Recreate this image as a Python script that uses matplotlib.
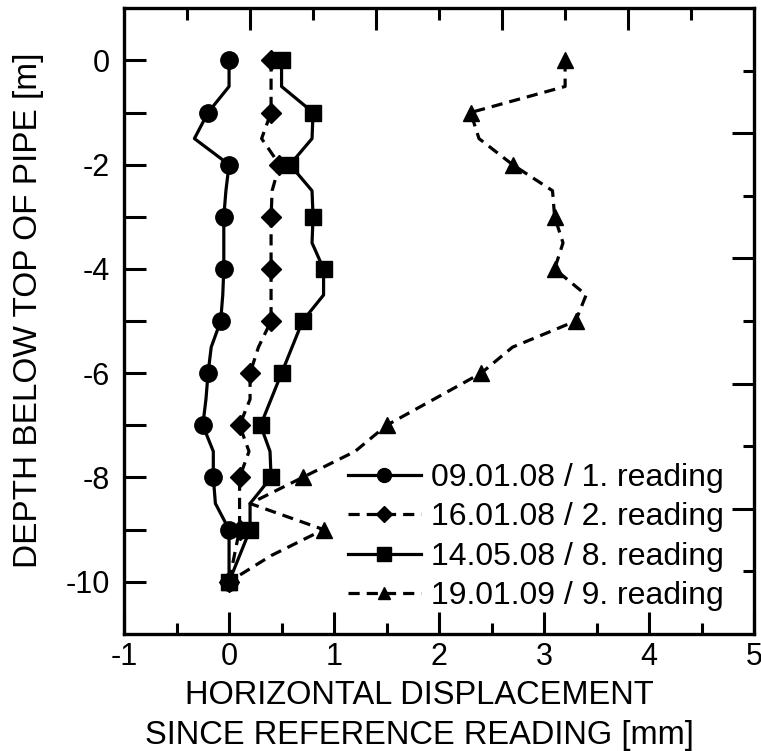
import matplotlib
matplotlib.use("Agg")
import matplotlib.pyplot as plt
import matplotlib.transforms as mtransforms
from matplotlib.lines import Line2D

# depth below top of pipe [m], every half metre (markers only at whole metres)
depth = [0, -0.5, -1, -1.5, -2, -2.5, -3, -3.5, -4, -4.5, -5,
         -5.5, -6, -6.5, -7, -7.5, -8, -8.5, -9, -9.5, -10]

# horizontal displacement [mm]
read1 = [0.0, 0.0, -0.2, -0.33, 0.0, -0.03, -0.05, -0.05, -0.05, -0.06, -0.08,
         -0.17, -0.2, -0.22, -0.25, -0.15, -0.15, -0.13, 0.0, 0.0, 0.0]
read2 = [0.4, 0.4, 0.4, 0.31, 0.48, 0.41, 0.4, 0.4, 0.4, 0.4, 0.4,
         0.28, 0.2, 0.2, 0.1, 0.19, 0.1, 0.1, 0.1, 0.05, 0.0]
read8 = [0.5, 0.5, 0.8, 0.79, 0.58, 0.79, 0.8, 0.79, 0.9, 0.9, 0.7,
         0.6, 0.5, 0.4, 0.3, 0.39, 0.4, 0.2, 0.2, 0.1, 0.0]
read9 = [3.2, 3.2, 2.3, 2.38, 2.7, 3.08, 3.1, 3.18, 3.1, 3.4, 3.3,
         2.7, 2.4, 1.95, 1.5, 1.2, 0.7, 0.2, 0.9, 0.4, 0.0]

labels = ["09.01.08 / 1. reading", "16.01.08 / 2. reading",
          "14.05.08 / 8. reading", "19.01.09 / 9. reading"]

# tick positions of the top and right frame (different spacing from the scales)
top_major = [0.2, 1.4, 2.6, 3.8]
top_minor = [-0.4, 0.8, 2.0, 3.2, 4.4]
right_major = [-1.4, -3.8, -6.2, -8.6]
right_minor = [-0.2, -2.6, -5.0, -7.4, -9.8]

plt.rcParams['font.family'] = ['Liberation Sans', 'DejaVu Sans']
plt.rcParams['axes.unicode_minus'] = False

fig = plt.figure(figsize=(7.61, 7.51), dpi=100)
rect = [0.163, 0.156, 0.828, 0.833]
ax = fig.add_axes(rect)

lw = 2.3
dash = (0, (3.5, 2.2))
ax.plot(read1, depth, color='k', lw=lw, marker='o', ms=12.5, markevery=2, label=labels[0])
ax.plot(read2, depth, color='k', lw=lw, ls=dash, marker='D', ms=10, markevery=2, label=labels[1])
ax.plot(read8, depth, color='k', lw=lw, marker='s', ms=12, markevery=2, label=labels[2])
ax.plot(read9, depth, color='k', lw=lw, ls=dash, marker='^', ms=11, markevery=2, label=labels[3])

ax.set_xlim(-1, 5)
ax.set_ylim(-11, 1)

ax.set_xticks(range(-1, 6))
ax.set_xticks([-0.5 + i for i in range(6)], minor=True)
ax.set_yticks(range(-10, 1, 2))
ax.set_yticks(range(-9, 0, 2), minor=True)

ax.tick_params(which='both', direction='in', width=2.2, labelsize=22,
               top=False, right=False)
ax.tick_params(axis='x', which='major', length=16, pad=6)
ax.tick_params(axis='x', which='minor', length=8)
ax.tick_params(axis='y', which='both', length=16, pad=10)

for s in ax.spines.values():
    s.set_linewidth(2.4)

# right frame ticks: overlay axes
ov = fig.add_axes(rect, frameon=False, label='right_ticks')
ov.set_xlim(-1, 5)
ov.set_ylim(-11, 1)
ov.set_xticks([])
ov.yaxis.tick_right()
ov.set_yticks(right_major)
ov.set_yticks(right_minor, minor=True)
ov.tick_params(axis='y', which='major', direction='in', width=2.2, length=16,
               right=True, left=False, labelright=False, labelleft=False)
ov.tick_params(axis='y', which='minor', direction='in', width=2.2, length=8,
               right=True, left=False, labelright=False, labelleft=False)

ax.set_xlabel("HORIZONTAL DISPLACEMENT\nSINCE REFERENCE READING [mm]",
              fontsize=23.5, linespacing=1.4)
ax.xaxis.set_label_coords(0.469, -0.073)
ax.set_ylabel("DEPTH BELOW TOP OF PIPE [m]", fontsize=24)
ax.yaxis.set_label_coords(-0.151, 0.518)
ax.yaxis.label.set_va('center')

ax.legend(loc='lower right', bbox_to_anchor=(0.987, 0.0), frameon=False,
          fontsize=23, handlelength=2.3, handletextpad=0.3,
          labelspacing=0.3, borderaxespad=0.3, markerscale=0.8)

# top frame ticks, hanging down from the top edge, drawn on the figure last
trans = mtransforms.blended_transform_factory(ax.transData, ax.transAxes)
for xs, frac in ((top_major, 0.035), (top_minor, 0.018)):
    for x in xs:
        fig.add_artist(Line2D([x, x], [1 - frac, 1], transform=trans,
                              color='k', lw=2.2, zorder=10,
                              solid_capstyle='butt'))

fig.savefig("out.png", dpi=100)
